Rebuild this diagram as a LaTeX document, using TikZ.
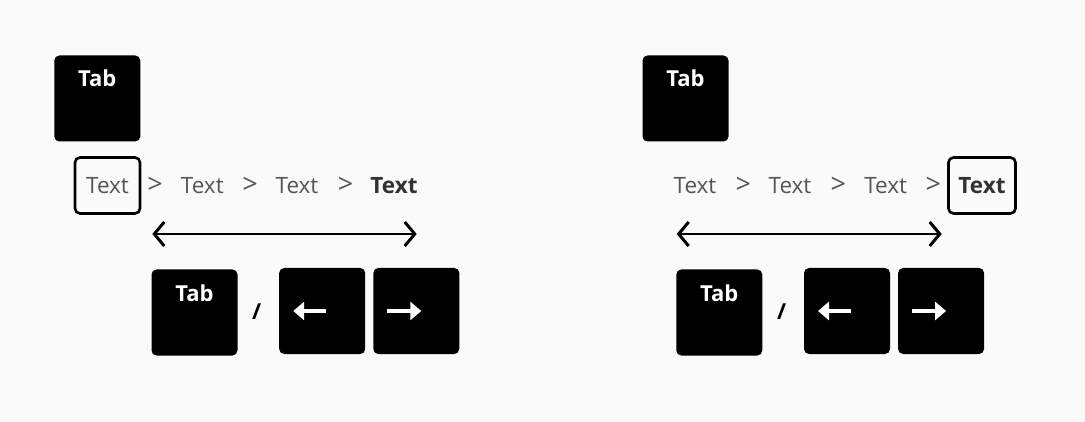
\documentclass[tikz,border=0pt]{standalone}
\usepackage{fontspec}
\setmainfont{Open Sans}
\usetikzlibrary{arrows.meta,positioning,calc}
\definecolor{pagebg}{HTML}{FAFAFA}
\definecolor{crumbgray}{HTML}{555555}
\definecolor{crumbdark}{HTML}{333333}
\begin{document}
\begin{tikzpicture}[x=1pt,y=-1pt,
  key/.style={fill=black,rounded corners=5pt,minimum width=86pt,minimum height=86pt,inner sep=0pt},
  keylabel/.style={text=white,inner sep=0pt,font=\fontsize{22}{26}\selectfont\bfseries},
  crumb/.style={text=crumbgray,inner sep=0pt,font=\fontsize{22.5}{26}\selectfont},
  current/.style={crumb,text=crumbdark,font=\fontsize{22.5}{26}\selectfont\bfseries},
  sep/.style={text=crumbgray,inner sep=0pt,font=\fontsize{27}{30}\selectfont},
  focus/.style={draw=black,line width=2.6pt,rounded corners=5pt,minimum height=56pt},
  span/.style={line width=2pt,{Straight Barb[length=10pt,width=24pt,line width=3pt]}-{Straight Barb[length=10pt,width=24pt,line width=3pt]}},
  keyarrow/.style={white,line width=3.5pt,-{Triangle[length=11pt,width=18pt]}},
  slash/.style={inner sep=0pt,font=\fontsize{22}{26}\selectfont\bfseries}]
\fill[pagebg] (0,0) rectangle (1085,422);

% left panel: focus on the first crumb
\node[key] (tabA) at (97.3,98.5) {};
\node[keylabel] at ($(tabA.north)+(0,23)$) {Tab};
\node[crumb,focus,minimum width=65pt] (crumbA1) at (107.5,185.5) {Text};
\node[crumb] (crumbA2) at (202.3,185.5) {Text};
\node[crumb] (crumbA3) at (297,185.5) {Text};
\node[current] (crumbA4) at (394,185.5) {Text};
\foreach \x in {155,250,345.7}
  \node[sep] at (\x,185) {>};
\coordinate (spanA1) at (152.3,234);
\coordinate (spanA2) at (416.7,234);
\draw[span] (spanA1) -- (spanA2);
\node[key] (tabB) at (194.5,312.5) {};
\node[keylabel] at ($(tabB.north)+(0,24)$) {Tab};
\node[slash] (slashA) at (256.7,311.7) {/};
\node[key] (leftA) at (322.2,311) {};
\node[key,right=7.7pt of leftA] (rightA) {};
\draw[keyarrow] ($(leftA.center)+(4,0)$) -- ($(leftA.center)+(-29,0)$);
\draw[keyarrow] ($(rightA.center)+(-29,0)$) -- ($(rightA.center)+(5,0)$);

% right panel: focus on the last crumb
\node[key] (tabC) at (685.5,98.5) {};
\node[keylabel] at ($(tabC.north)+(0,23)$) {Tab};
\node[crumb] (crumbC1) at (695,185.5) {Text};
\node[crumb] (crumbC2) at (790,185.5) {Text};
\node[crumb] (crumbC3) at (885.7,185.5) {Text};
\node[current,focus,minimum width=67pt] (crumbC4) at (982,185.5) {Text};
\foreach \x in {743.3,838.3,933.3}
  \node[sep] at (\x,185) {>};
\coordinate (spanC1) at (676.7,234);
\coordinate (spanC2) at (941.7,234);
\draw[span] (spanC1) -- (spanC2);
\node[key] (tabD) at (719.3,312.5) {};
\node[keylabel] at ($(tabD.north)+(0,24)$) {Tab};
\node[slash] (slashC) at (781.7,311.7) {/};
\node[key] (leftC) at (847,311) {};
\node[key,right=7.7pt of leftC] (rightC) {};
\draw[keyarrow] ($(leftC.center)+(4,0)$) -- ($(leftC.center)+(-29,0)$);
\draw[keyarrow] ($(rightC.center)+(-29,0)$) -- ($(rightC.center)+(5,0)$);
\end{tikzpicture}
\end{document}
